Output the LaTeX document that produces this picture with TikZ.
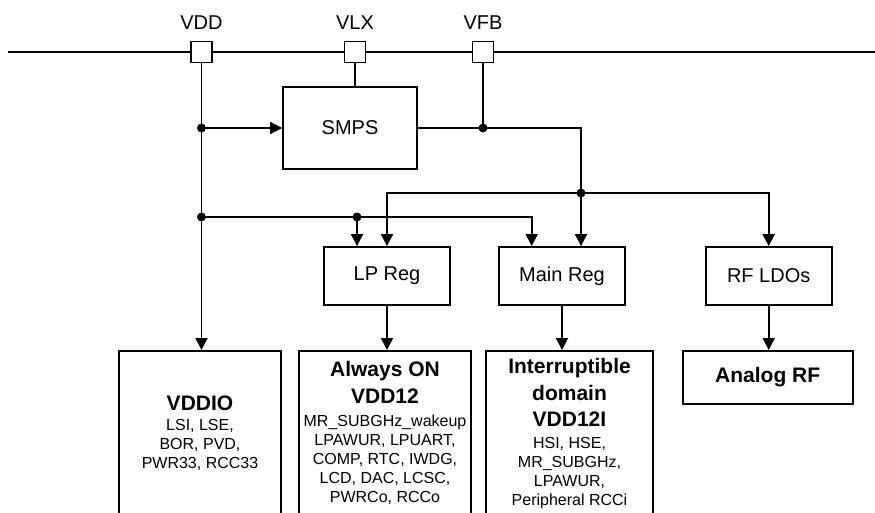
\documentclass[tikz,border=0pt]{standalone}
\usepackage{fontspec}
\setmainfont{Liberation Sans}
\usetikzlibrary{arrows.meta,positioning}
\newcommand{\dtitle}{\fontsize{21}{25}\selectfont\bfseries}

\begin{document}
\begin{tikzpicture}[x=1pt,y=-1pt,
  pin/.style={draw,fill=white,line width=1.1pt,minimum size=21pt,inner sep=0pt},
  pinlabel/.style={font=\fontsize{20}{24}\selectfont},
  blk/.style={draw,line width=1.8pt,inner sep=0pt,minimum width=126pt,minimum height=58pt,font=\fontsize{20}{24}\selectfont},
  dom/.style={draw,line width=1.8pt,anchor=north,align=center,inner sep=0pt,minimum height=165pt,font=\fontsize{16}{19}\selectfont},
  wire/.style={line width=1.8pt},
  arr/.style={wire,-{Triangle[length=12pt,width=12pt]}},
  dot/.style={circle,fill,inner sep=0pt,minimum size=9pt}]
\useasboundingbox (0,0) rectangle (875,513);
\coordinate (busL) at (8,52);
\coordinate (busR) at (875,52);
\node[pin] (pVDD) at (201.5,52) {};
\node[pin] (pVLX) at (355,52) {};
\node[pin] (pVFB) at (483,52) {};
\node[pinlabel,above=8pt of pVDD] (lVDD) {VDD};
\node[pinlabel,above=8pt of pVLX] (lVLX) {VLX};
\node[pinlabel,above=8pt of pVFB] (lVFB) {VFB};
\draw[line width=1.1pt] (busL) -- (pVDD) -- (pVLX) -- (pVFB) -- (busR);

\node[blk,minimum width=134pt,minimum height=82pt] (smps) at (350,128) {SMPS};
\node[blk] (lpreg) at (387,276) {LP Reg};
\node[blk] (mainreg) at (562,276) {Main Reg};
\node[blk] (rfldo) at (768.7,276) {RF LDOs};

\node[dom,minimum width=162pt] (vddio) at (200,350)
  {{\dtitle VDDIO}\\[1pt]LSI, LSE,\\BOR, PVD,\\PWR33, RCC33};
\node[dom,minimum width=172pt] (aon) at (385,350)
  {{\dtitle Always ON}\\[7pt]{\dtitle VDD12}\\[4pt]MR\_SUBGHz\_wakeup\\LPAWUR, LPUART,\\COMP, RTC, IWDG,\\LCD, DAC, LCSC,\\PWRCo, RCCo};
\node[dom,minimum width=167pt] (intd) at (569.5,350)
  {{\dtitle Interruptible}\\[7pt]{\dtitle domain}\\[7pt]{\dtitle VDD12I}\\[3pt]HSI, HSE,\\MR\_SUBGHz,\\LPAWUR,\\Peripheral RCCi};
\node[dom,minimum width=170pt,minimum height=53pt,font=\dtitle] (arf) at (767.7,350) {Analog RF};

\node[dot] (j1) at (pVDD |- smps) {};
\node[dot] (j2) at (201.5,217) {};
\node[dot] (j3) at (357,217) {};
\node[dot] (j4) at (pVFB |- smps.east) {};
\node[dot] (j5) at (581,193) {};
\coordinate (c1) at (531.7,217);

\draw[arr] (pVDD) -- (pVDD |- vddio.north);
\draw[arr] (j1.center) -- (smps.west);
\draw[wire] (pVLX) -- (pVLX |- smps.north);
\draw[wire] (pVFB) -- (j4.center);
\draw[wire] (smps.east) -- (j5 |- smps.east) -- (j5.center);
\draw[arr] (j5.center) -- (j5 |- mainreg.north);
\draw[arr] (j5.center) -- (j5 -| lpreg) -- (lpreg.north);
\draw[arr] (j5.center) -- (j5 -| rfldo) -- (rfldo.north);
\draw[wire] (j2.center) -- (j3.center);
\draw[arr] (j3.center) -- (j3 |- lpreg.north);
\draw[arr] (j3.center) -- (c1) -- (c1 |- mainreg.north);
\draw[arr] (lpreg.south) -- (lpreg.south |- aon.north);
\draw[arr] (mainreg.south) -- (mainreg.south |- intd.north);
\draw[arr] (rfldo.south) -- (rfldo.south |- arf.north);
\end{tikzpicture}
\end{document}
